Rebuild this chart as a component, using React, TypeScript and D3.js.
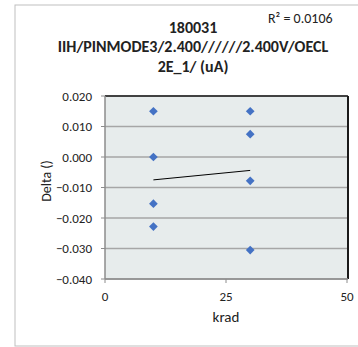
import React from "react";
import * as d3 from "d3";

const titleLines = ["180031", "IIH/PINMODE3/2.400//////2.400V/OECL", "2E_1/ (uA)"];
const rSquaredLabel = "R² = 0.0106";
const xLabel = "krad";
const yLabel = "Delta ()";

const pointX = [10, 10, 10, 10, 30, 30, 30, 30];
const pointY = [0.015, 0.0, -0.0153, -0.0228, 0.015, 0.0075, -0.0078, -0.0305];

const trendX = [10, 30];
const trendY = [-0.0075, -0.0044];

const xTicks = [0, 25, 50];
const yTicks = [0.02, 0.01, 0.0, -0.01, -0.02, -0.03, -0.04];

export default function App() {
  const W = 358;
  const H = 347;
  const left = 105;
  const right = 347;
  const top = 96;
  const bottom = 279;

  const x = d3.scaleLinear().domain([0, 50]).range([left, right]);
  const y = d3.scaleLinear().domain([-0.04, 0.02]).range([bottom, top]);
  const fmt = d3.format(".3f");
  const font = "Carlito, 'Liberation Sans', Arial, sans-serif";

  const diamond = d3.symbol().type(d3.symbolSquare).size(38)() as string;
  const line = d3
    .line<number>()
    .x((_, i) => x(trendX[i]))
    .y((d) => y(d));

  return (
    <svg
      width={W}
      height={H}
      style={{ position: "absolute", left: 0, top: 0, background: "#fff" }}
      fontFamily={font}
    >
      <rect x={15} y={5} width={360} height={341} fill="#fff" stroke="#BFBFBF" strokeWidth={1} />
      <rect x={left} y={top} width={right - left} height={bottom - top} fill="#E7ECEC" />
      {yTicks.map((t) => (
        <line key={"g" + t} x1={left} x2={right} y1={y(t)} y2={y(t)} stroke="#A6A6A6" strokeWidth={1.5} />
      ))}
      <line x1={left} x2={right + 1} y1={top} y2={top} stroke="#1a1a1a" strokeWidth={1.5} />
      <line x1={right + 1} x2={right + 1} y1={top} y2={bottom} stroke="#1a1a1a" strokeWidth={2} />
      <line x1={left} x2={left} y1={top} y2={bottom} stroke="#8C8C8C" strokeWidth={1.5} />
      <line x1={left} x2={right + 1} y1={bottom} y2={bottom} stroke="#8C8C8C" strokeWidth={1.5} />
      {yTicks.map((t) => (
        <g key={"y" + t}>
          <line x1={left - 4} x2={left} y1={y(t)} y2={y(t)} stroke="#8C8C8C" strokeWidth={1} />
          <text x={92} y={y(t)} dy="0.35em" textAnchor="end" fontSize={13} fill="#222">
            {fmt(t)}
          </text>
        </g>
      ))}
      {xTicks.map((t) => (
        <g key={"x" + t}>
          <line x1={x(t)} x2={x(t)} y1={bottom} y2={bottom + 4} stroke="#8C8C8C" strokeWidth={1} />
          <text x={x(t)} y={296} dy="0.35em" textAnchor="middle" fontSize={13} fill="#222">
            {t}
          </text>
        </g>
      ))}
      <path d={line(trendY) as string} stroke="#000" strokeWidth={1} fill="none" />
      {pointX.map((px, i) => (
        <path key={"p" + i} d={diamond} transform={`translate(${x(px)},${y(pointY[i])}) rotate(45)`} fill="#4472C4" />
      ))}
      {titleLines.map((t, i) => (
        <text key={"t" + i} x={193} y={27 + i * 19.5} dy="0.35em" textAnchor="middle" fontSize={16} fontWeight="bold" fill="#222">
          {t}
        </text>
      ))}
      <text x={268} y={18} dy="0.35em" fontSize={14} fill="#222">
        {rSquaredLabel}
      </text>
      <text x={226} y={317} dy="0.35em" textAnchor="middle" fontSize={15} fill="#222">
        {xLabel}
      </text>
      <text transform={`translate(46,181) rotate(-90)`} dy="0.35em" textAnchor="middle" fontSize={14} fill="#222">
        {yLabel}
      </text>
    </svg>
  );
}
